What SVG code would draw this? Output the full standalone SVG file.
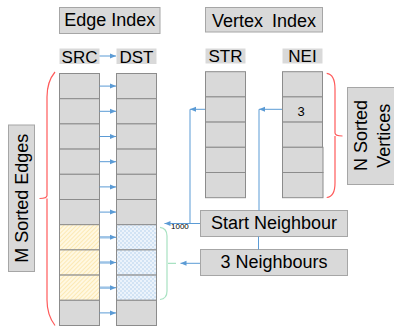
<svg xmlns="http://www.w3.org/2000/svg" width="394" height="329" viewBox="0 0 394 329">
<style>
text{font-family:"Liberation Sans",Arial,sans-serif;fill:#000}
.t18{font-size:18px}
.t17{font-size:17px}
.hdr{fill:#d9d9d9;stroke:#a6a6a6;stroke-width:1}
.lbl{fill:#d9d9d9;stroke:none}
.cell{fill:#d9d9d9;stroke:#8c8c8c;stroke-width:1}
.ln{fill:none;stroke:#5b9bd5;stroke-width:1}
.thick{fill:none;stroke:#9dc3e6;stroke-width:2.5}
.red{fill:none;stroke:#ff5a5a;stroke-width:1.2}
.green{fill:none;stroke:#a8e2c2;stroke-width:1.2}
</style>
<defs>
<marker id="ah" markerUnits="userSpaceOnUse" markerWidth="7" markerHeight="6" refX="6" refY="3" orient="auto">
<path d="M0,0.5 L6,3 L0,5.5 Z" fill="#5b9bd5"/>
</marker>
<pattern id="yh" width="3" height="3" patternUnits="userSpaceOnUse" patternTransform="rotate(45)">
<rect width="3" height="3" fill="#fff8e2"/>
<line x1="0.5" y1="0" x2="0.5" y2="3" stroke="#fce9b4" stroke-width="1"/>
</pattern>
<pattern id="bd" width="4" height="4" patternUnits="userSpaceOnUse">
<rect width="4" height="4" fill="#d2e3f4"/>
<rect width="2" height="2" fill="#ecf3fb"/>
<rect x="2" y="2" width="2" height="2" fill="#ecf3fb"/>
</pattern>
</defs>
<rect width="394" height="329" fill="#fff"/>

<g id="edge-index">
<rect class="hdr" x="59.5" y="7.5" width="100.5" height="26"/>
<text class="t18" x="109.8" y="26" text-anchor="middle">Edge Index</text>
</g>
<g id="vertex-index">
<rect class="hdr" x="205.5" y="7.5" width="117" height="24.5"/>
<text class="t18" x="264" y="26.5" text-anchor="middle" word-spacing="4">Vertex Index</text>
</g>

<g id="src-label"><rect class="lbl" x="59.5" y="48.5" width="40" height="15.5"/><text class="t17" x="79.5" y="62.7" text-anchor="middle">SRC</text></g>
<g id="dst-label"><rect class="lbl" x="116.5" y="48.5" width="40" height="15.5"/><text class="t17" x="136.5" y="62.7" text-anchor="middle">DST</text></g>
<g id="str-label"><rect class="lbl" x="205.5" y="48.5" width="40" height="15"/><text class="t17" x="225.5" y="62.4" text-anchor="middle">STR</text></g>
<g id="nei-label"><rect class="lbl" x="282.5" y="48.5" width="40" height="15"/><text class="t17" x="302.5" y="62.4" text-anchor="middle">NEI</text></g>

<g id="src-column">
<rect class="cell" x="59.5" y="73.5" width="40" height="25.2"/>
<rect class="cell" x="59.5" y="98.7" width="40" height="25.2"/>
<rect class="cell" x="59.5" y="123.9" width="40" height="25.2"/>
<rect class="cell" x="59.5" y="149.1" width="40" height="25.2"/>
<rect class="cell" x="59.5" y="174.3" width="40" height="25.2"/>
<rect class="cell" x="59.5" y="199.5" width="40" height="25.2"/>
<rect class="cell" x="59.5" y="224.7" width="40" height="25.2" style="fill:url(#yh)"/>
<rect class="cell" x="59.5" y="249.9" width="40" height="25.2" style="fill:url(#yh)"/>
<rect class="cell" x="59.5" y="275.1" width="40" height="25.2" style="fill:url(#yh)"/>
<rect class="cell" x="59.5" y="300.3" width="40" height="25.2"/>
</g>
<g id="dst-column">
<rect class="cell" x="116.5" y="73.5" width="40" height="25.2"/>
<rect class="cell" x="116.5" y="98.7" width="40" height="25.2"/>
<rect class="cell" x="116.5" y="123.9" width="40" height="25.2"/>
<rect class="cell" x="116.5" y="149.1" width="40" height="25.2"/>
<rect class="cell" x="116.5" y="174.3" width="40" height="25.2"/>
<rect class="cell" x="116.5" y="199.5" width="40" height="25.2"/>
<rect class="cell" x="116.5" y="224.7" width="40" height="25.2" style="fill:url(#bd)"/>
<rect class="cell" x="116.5" y="249.9" width="40" height="25.2" style="fill:url(#bd)"/>
<rect class="cell" x="116.5" y="275.1" width="40" height="25.2" style="fill:url(#bd)"/>
<rect class="cell" x="116.5" y="300.3" width="40" height="25.2"/>
</g>
<g id="str-column">
<rect class="cell" x="205.5" y="71.7" width="40" height="25.2"/>
<rect class="cell" x="205.5" y="96.9" width="40" height="25.2"/>
<rect class="cell" x="205.5" y="122.1" width="40" height="25.2"/>
<rect class="cell" x="205.5" y="147.3" width="40" height="25.2"/>
<rect class="cell" x="205.5" y="172.5" width="40" height="25.2"/>
</g>
<g id="nei-column">
<rect class="cell" x="282.5" y="71.7" width="40" height="25.2"/>
<rect class="cell" x="282.5" y="96.9" width="40" height="25.2"/>
<text x="301" y="116" text-anchor="middle" font-size="13">3</text>
<rect class="cell" x="282.5" y="122.1" width="40" height="25.2"/>
<rect class="cell" x="282.5" y="147.3" width="40.5" height="25.2"/>
<rect class="cell" x="282.5" y="172.5" width="40.5" height="25.2"/>
</g>

<g id="m-sorted-edges">
<rect class="hdr" x="8.5" y="125" width="26" height="146.5"/>
<text class="t18" transform="translate(27.7,198.3) rotate(-90)" text-anchor="middle">M Sorted Edges</text>
</g>
<g id="n-sorted-vertices">
<rect class="hdr" x="347.5" y="87.5" width="60" height="97"/>
<text class="t18" transform="translate(366.7,135.5) rotate(-90)" text-anchor="middle">N Sorted</text>
<text class="t18" transform="translate(390,135.8) rotate(-90)" text-anchor="middle">Vertices</text>
</g>

<g id="start-neighbour">
<rect class="hdr" x="200.5" y="210.5" width="147" height="26"/>
<text class="t18" x="274" y="229.3" text-anchor="middle">Start Neighbour</text>
</g>
<g id="three-neighbours">
<rect class="hdr" x="200.5" y="249.5" width="147" height="26"/>
<text class="t18" x="274" y="268.3" text-anchor="middle">3 Neighbours</text>
</g>

<g id="braces">
<path class="red" d="M55,72 C50,78 47,86 47,97 L47,195.5 Q47,198.5 39.5,198.5 M47,198.5 L47,300 C47,311 50,319 55,325.5"/>
<path class="red" d="M326.7,73.3 C332,74 335,79 335,89 L335,133 Q335,136 342.5,136 M335,136 L335,183 C335,192 332,197 326.7,197.5"/>
<path class="green" d="M160,227.3 C165,228 167,231 167,236 L167,291 C167,296 165,299 160,299.5 M168,263.3 L176,263.3"/>
</g>

<g id="connectors">
<line class="ln" x1="99.5" y1="56" x2="116" y2="56" marker-end="url(#ah)"/>
<line class="ln" x1="99.5" y1="86.1" x2="116" y2="86.1" marker-end="url(#ah)"/>
<line class="ln" x1="99.5" y1="111.3" x2="116" y2="111.3" marker-end="url(#ah)"/>
<line class="ln" x1="99.5" y1="136.5" x2="116" y2="136.5" marker-end="url(#ah)"/>
<line class="ln" x1="99.5" y1="161.7" x2="116" y2="161.7" marker-end="url(#ah)"/>
<line class="ln" x1="99.5" y1="186.9" x2="116" y2="186.9" marker-end="url(#ah)"/>
<line class="ln" x1="99.5" y1="212.1" x2="116" y2="212.1" marker-end="url(#ah)"/>
<line class="thick" x1="100" y1="237.3" x2="111" y2="237.3"/>
<line class="ln" x1="110" y1="237.3" x2="116" y2="237.3" marker-end="url(#ah)"/>
<line class="thick" x1="100" y1="262.5" x2="111" y2="262.5"/>
<line class="ln" x1="110" y1="262.5" x2="116" y2="262.5" marker-end="url(#ah)"/>
<line class="thick" x1="100" y1="287.7" x2="111" y2="287.7"/>
<line class="ln" x1="110" y1="287.7" x2="116" y2="287.7" marker-end="url(#ah)"/>
<line class="ln" x1="99.5" y1="312.9" x2="116" y2="312.9" marker-end="url(#ah)"/>

<line class="ln" x1="205" y1="109.3" x2="190" y2="109.3" marker-end="url(#ah)"/>
<line class="ln" x1="190" y1="109.3" x2="190" y2="223.5"/>
<line class="ln" x1="200" y1="223.5" x2="164.5" y2="223.5" marker-end="url(#ah)"/>
<text x="171" y="228.5" font-size="8" fill="#222">1000</text>

<line class="ln" x1="282" y1="109.3" x2="259" y2="109.3" marker-end="url(#ah)"/>
<line class="ln" x1="259" y1="109.3" x2="259" y2="210.5"/>
<line class="ln" x1="258.5" y1="236.5" x2="258.5" y2="249.5"/>
<line class="ln" x1="200" y1="263.3" x2="180.5" y2="263.3" marker-end="url(#ah)"/>
</g>
</svg>
